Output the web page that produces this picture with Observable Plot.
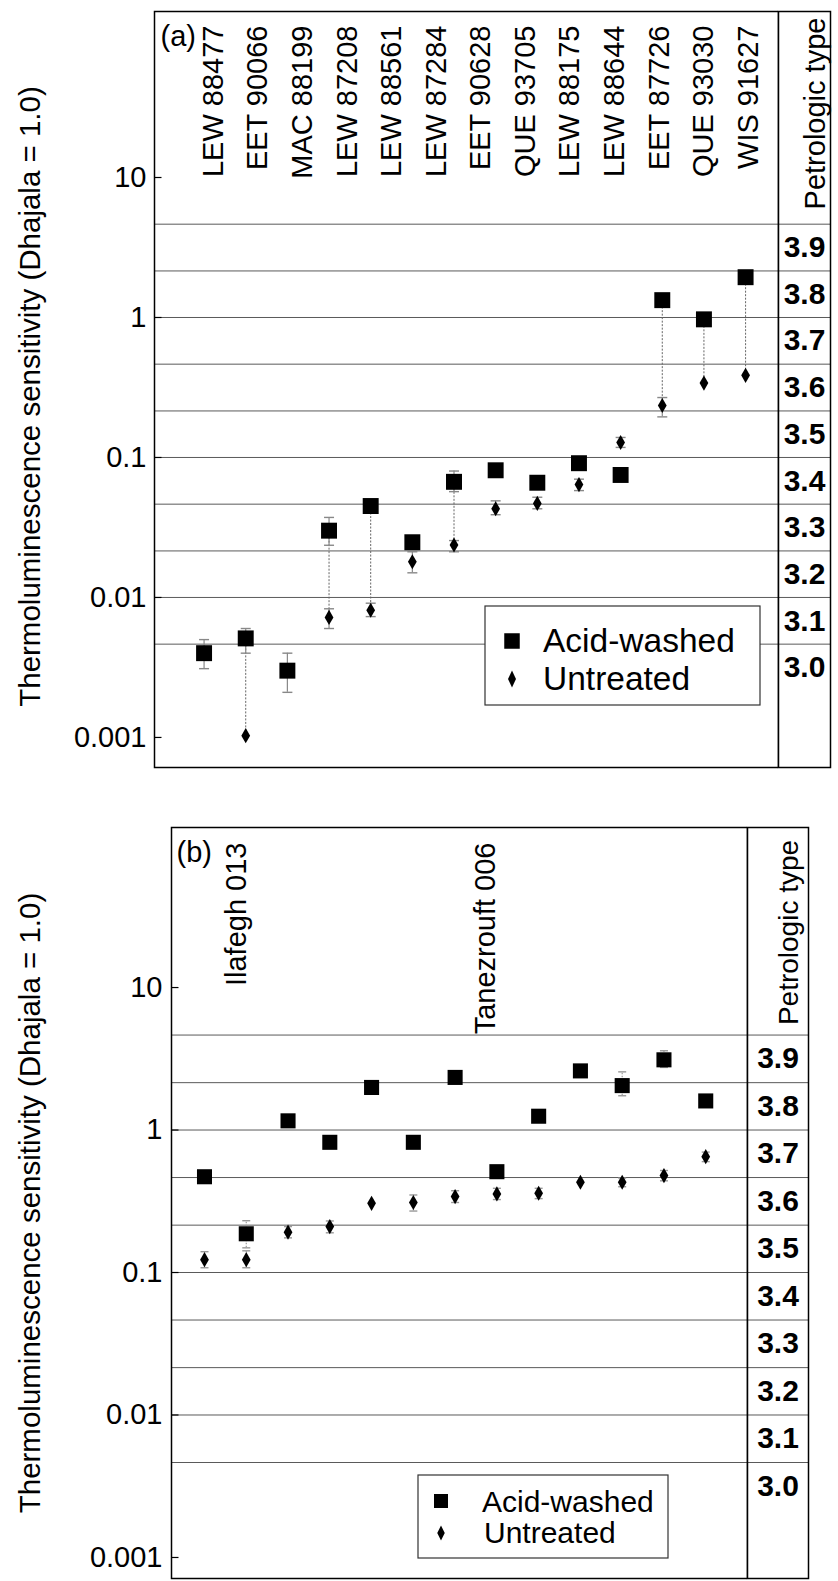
<!DOCTYPE html>
<html><head><meta charset="utf-8">
<script src="https://cdn.jsdelivr.net/npm/d3@7"></script>
<script src="https://cdn.jsdelivr.net/npm/@observablehq/plot@0.6"></script>
<style>
body{margin:0;background:#fff;}
#page{position:relative;width:838px;height:1581px;overflow:hidden;background:#fff;font-family:"Liberation Sans",Arial,Helvetica,sans-serif;}
.row{position:absolute;left:0;display:flex;}
.row svg{display:block;overflow:visible;}
.legend{position:absolute;}
</style></head><body><div id="page"></div>
<script>
// ---------- DATA ----------
const meteoritesA = ["LEW 88477","EET 90066","MAC 88199","LEW 87208","LEW 88561","LEW 87284","EET 90628","QUE 93705","LEW 88175","LEW 88644","EET 87726","QUE 93030","WIS 91627"];
const acidA      = [0.0040,0.0051,0.0030,0.030,0.045,0.0248,0.067,0.081,0.066,0.091,0.075,1.33,0.97,1.94];
const untreatedA = [null,0.00103,null,0.0072,0.0081,0.018,0.0237,0.043,0.047,0.064,0.128,0.235,0.34,0.386];
const acidErrA = [[0.0031,0.0050],[0.0040,0.0060],[0.0021,0.0040],[0.0236,0.0373],null,null,[0.057,0.080],null,null,null,null,null,null,null];
const untreatedErrA = [null,null,null,[0.0060,0.0083],[0.0073,0.0091],[0.0150,0.0212],[0.0212,0.0255],[0.039,0.049],[0.043,0.052],[0.058,0.070],[0.118,0.139],[0.195,0.268],null,null];
const connectA = [false,true,false,true,true,false,true,false,false,false,false,true,true,true];

const meteoritesB = ["Ilafegh 013","Tanezrouft 006"];
const labelPosB = [1.5,7.45];
const acidB      = [0.47,0.187,1.16,0.82,1.99,0.82,2.34,0.51,1.25,2.6,2.05,3.11,1.6];
const untreatedB = [0.123,0.123,0.192,0.21,0.306,0.31,0.341,0.356,0.36,0.43,0.43,0.479,0.65];
const acidErrB = [null,[0.149,0.231],null,null,null,null,null,null,null,null,[1.74,2.56],[2.75,3.6],null];
const untreatedErrB = [[0.108,0.14],[0.108,0.142],[0.175,0.21],[0.19,0.23],null,[0.27,0.35],[0.31,0.375],[0.325,0.39],[0.33,0.39],null,[0.40,0.46],[0.44,0.52],[0.6,0.7]];

const petroTypes  = ["3.0","3.1","3.2","3.3","3.4","3.5","3.6","3.7","3.8","3.9"];
const petroMid    = [0.00316,0.0068,0.0147,0.0316,0.068,0.147,0.316,0.681,1.468,3.162];
const petroBounds = [0.00464,0.01,0.0215,0.0464,0.1,0.215,0.464,1,2.15,4.64];
const yTicks      = [0.001,0.01,0.1,1,10];
const yTickLabels = ["0.001","0.01","0.1","1","10"];
const yTitle = "Thermoluminescence sensitivity (Dhajala = 1.0)";
const seriesNames = ["Acid-washed","Untreated"];

// ---------- HELPERS ----------
const FONT = '"Liberation Sans",Arial,Helvetica,sans-serif';
const capSymbol  = {draw(ctx,size){const w=Math.sqrt(size/Math.PI);ctx.moveTo(-w,0);ctx.lineTo(w,0);}};
const tickSymbol = {draw(ctx,size){const w=Math.sqrt(size/Math.PI);ctx.moveTo(0,0);ctx.lineTo(w,0);}};

function rowsOf(acid, untreated, acidErr, untreatedErr, connect){
  return acid.map((v,k)=>({i:k+1, acid:v, untreated:untreated[k], aErr:acidErr[k], uErr:untreatedErr[k], connect:connect?connect[k]:false}));
}

function buildPanel(cfg){
  const rows = cfg.rows;
  const errs = [];
  rows.forEach(d=>{
    if(d.aErr) errs.push({i:d.i, lo:d.aErr[0], hi:d.aErr[1]});
    if(d.uErr) errs.push({i:d.i, lo:d.uErr[0], hi:d.uErr[1]});
  });
  const caps = errs.flatMap(e=>[{i:e.i,y:e.lo},{i:e.i,y:e.hi}]);
  const yOpt = {type:"log", domain:cfg.yDomain, axis:null};
  const main = Plot.plot({
    width:cfg.mainWidth, height:cfg.height,
    marginLeft:cfg.ml, marginRight:0, marginTop:cfg.mt, marginBottom:cfg.mb,
    x:{type:"linear", domain:cfg.xDomain, axis:null},
    y:yOpt,
    style:{fontFamily:FONT, color:"black", background:"white", overflow:"visible"},
    marks:[
      Plot.ruleY(petroBounds,{stroke:"#5a5a5a", strokeWidth:1}),
      Plot.ruleX(rows.filter(d=>d.connect && d.untreated!=null),{x:"i", y1:"acid", y2:"untreated", stroke:"#666", strokeWidth:1, strokeDasharray:cfg.connDash}),
      Plot.ruleX(errs,{x:"i", y1:"lo", y2:"hi", stroke:cfg.errColor, strokeWidth:1.2, strokeDasharray:cfg.errDash}),
      Plot.dot(caps,{x:"i", y:"y", symbol:capSymbol, r:cfg.capR, stroke:cfg.errColor, strokeWidth:1.4, fill:"none"}),
      Plot.dot(rows,{x:"i", y:"acid", symbol:"square", r:cfg.sqR, fill:"black", stroke:"none"}),
      Plot.dot(rows.filter(d=>d.untreated!=null),{x:"i", y:"untreated", symbol:"diamond", r:cfg.diaR, fill:"black", stroke:"none"}),
      Plot.text(cfg.labels,{x:(d,k)=>cfg.labelX[k], frameAnchor:"top", text:d=>d, rotate:-90, textAnchor:"end", dy:cfg.labelDy, fontSize:29, fill:"black"}),
      Plot.text([cfg.tag],{frameAnchor:"top-left", text:d=>d, textAnchor:"start", lineAnchor:"top", dx:cfg.tagDx, dy:cfg.tagDy, fontSize:29, fill:"black"}),
      Plot.dot(yTicks,{y:d=>d, frameAnchor:"left", symbol:tickSymbol, r:7, stroke:"black", strokeWidth:1.2, fill:"none"}),
      Plot.text(yTicks,{y:d=>d, frameAnchor:"left", text:(d,k)=>yTickLabels[k], textAnchor:"end", dx:cfg.tickDx, fontSize:29, fill:"black"}),
      Plot.text([yTitle],{frameAnchor:"left", text:d=>d, rotate:-90, textAnchor:"middle", dx:cfg.titleDx, dy:cfg.titleDy, fontSize:29.5, fill:"black"}),
      Plot.frame({stroke:"black", strokeWidth:1.5})
    ]
  });
  const col = Plot.plot({
    width:cfg.colWidth, height:cfg.height,
    marginLeft:0, marginRight:cfg.colMr, marginTop:cfg.mt, marginBottom:cfg.mb,
    y:yOpt,
    style:{fontFamily:FONT, color:"black", background:"white", overflow:"visible"},
    marks:[
      Plot.ruleY(petroBounds,{stroke:"#5a5a5a", strokeWidth:1}),
      Plot.text(petroTypes,{y:(d,k)=>petroMid[k], text:d=>d, fontWeight:"bold", fontSize:30, fill:"black"}),
      Plot.text(["Petrologic type"],{frameAnchor:"top", text:d=>d, rotate:-90, textAnchor:"middle", dy:cfg.headDy, fontSize:cfg.headSize, fill:"black"}),
      Plot.frame({stroke:"black", strokeWidth:1.5})
    ]
  });
  const row = document.createElement("div");
  row.className = "row";
  row.style.top = cfg.top + "px";
  row.appendChild(main);
  row.appendChild(col);
  document.getElementById("page").appendChild(row);
}

function buildLegend(L){
  const svg = d3.create("svg").attr("class","legend").attr("width",L.w+2).attr("height",L.h+2)
    .style("left",(L.left-1)+"px").style("top",(L.top-1)+"px");
  svg.append("rect").attr("x",1).attr("y",1).attr("width",L.w).attr("height",L.h)
    .attr("fill","white").attr("stroke","#333").attr("stroke-width",1.2);
  const s = L.sq;
  svg.append("rect").attr("x",1+s.cx-s.w/2).attr("y",1+s.cy-s.h/2).attr("width",s.w).attr("height",s.h).attr("fill","black");
  const dm = L.dia;
  svg.append("path").attr("d",`M${1+dm.cx},${1+dm.cy-dm.h/2}L${1+dm.cx+dm.w/2},${1+dm.cy}L${1+dm.cx},${1+dm.cy+dm.h/2}L${1+dm.cx-dm.w/2},${1+dm.cy}Z`).attr("fill","black");
  L.texts.forEach((t,k)=>{
    svg.append("text").attr("x",1+t.x).attr("y",1+t.y).attr("font-family",FONT).attr("font-size",L.fontSize).attr("fill","black").text(seriesNames[k]);
  });
  document.getElementById("page").appendChild(svg.node());
}

// ---------- PANEL A ----------
buildPanel({
  rows: rowsOf(acidA, untreatedA, acidErrA, untreatedErrA, connectA),
  labels: meteoritesA, labelX: meteoritesA.map((d,k)=>0.955+1.07*k),
  tag:"(a)", top:0, height:790, mt:11, mb:23, ml:154, mainWidth:778,
  colWidth:60, colMr:8,
  xDomain:[-0.19,14.79], yDomain:[0.000610,153.4],
  sqR:9, diaR:4.6, capR:5, errColor:"#888", errDash:null, connDash:"2,1.5",
  labelDy:14, tagDx:6, tagDy:14, tickDx:-8, titleDx:-124, titleDy:7,
  headDy:102, headSize:29
});
buildLegend({left:485, top:606, w:275, h:99, fontSize:33.5,
  sq:{cx:27, cy:35, w:15.5, h:15.5}, dia:{cx:27, cy:73, w:8, h:17},
  texts:[{x:58, y:46},{x:58, y:84}]});

// ---------- PANEL B ----------
buildPanel({
  rows: rowsOf(acidB, untreatedB, acidErrB, untreatedErrB, null),
  labels: meteoritesB, labelX: labelPosB,
  tag:"(b)", top:790, height:791, mt:37, mb:3, ml:171, mainWidth:747,
  colWidth:91, colMr:30,
  xDomain:[0.21,14.0], yDomain:[0.000712,132.8],
  sqR:8.5, diaR:4.6, capR:4, errColor:"#999", errDash:"1.5,1.5", connDash:null,
  labelDy:15, tagDx:5, tagDy:14, tickDx:-9, titleDx:-141, titleDy:0,
  headDy:105, headSize:28
});
buildLegend({left:418, top:1475, w:250, h:83, fontSize:30,
  sq:{cx:23, cy:26, w:14, h:14}, dia:{cx:23, cy:58, w:7.5, h:15},
  texts:[{x:64, y:37},{x:66, y:68}]});
</script></body></html>
